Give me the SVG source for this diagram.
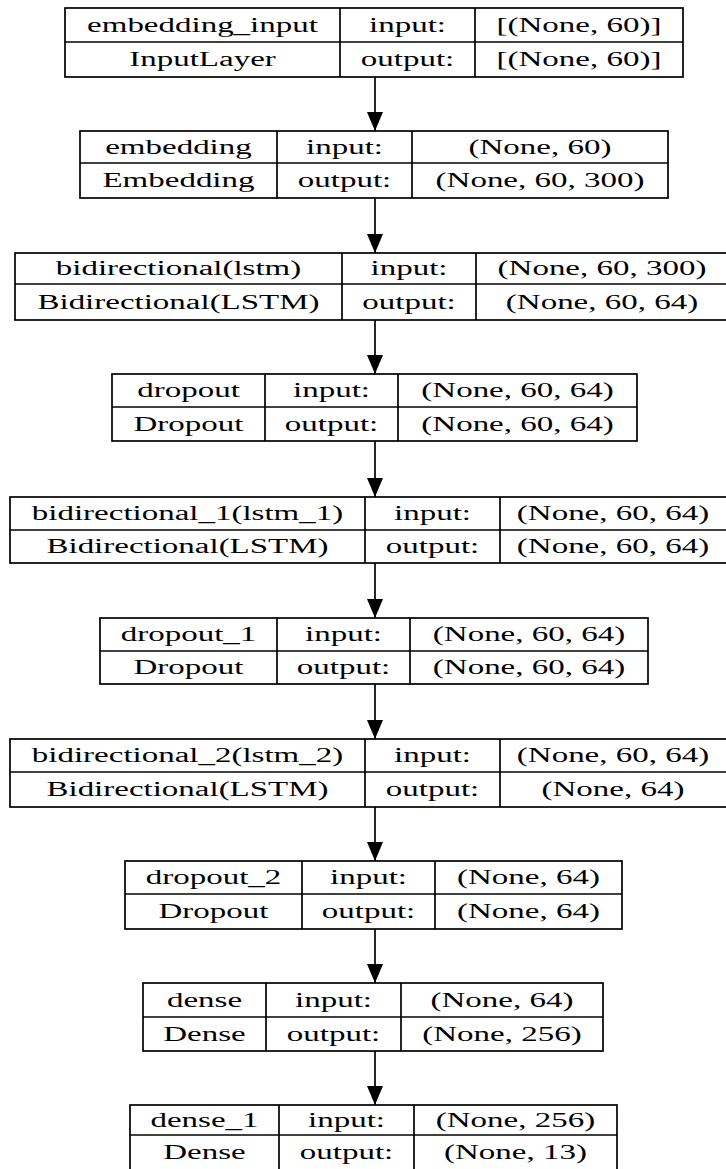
<svg xmlns="http://www.w3.org/2000/svg" width="726" height="1169" viewBox="0 0 726 1169">
<style>
.box{fill:#fff;stroke:#000;stroke-width:1.7}
.ln{stroke:#000;stroke-width:1.7}
.t{font-family:"Liberation Serif","Times New Roman",serif;font-size:20px;fill:#000;text-anchor:middle}
.edge{stroke:#000;stroke-width:1.7;fill:none;marker-end:url(#ah)}
</style>
<defs>
<marker id="ah" viewBox="0 0 19 16" refX="19" refY="8" markerWidth="19" markerHeight="16" markerUnits="userSpaceOnUse" orient="auto">
<path d="M0,0 L19,8 L0,16 z" fill="#000"/>
</marker>
</defs>
<rect width="726" height="1169" fill="#fff"/>
<g id="edges">
<line class="edge" x1="375" y1="77" x2="375" y2="131"/>
<line class="edge" x1="375" y1="198" x2="375" y2="253"/>
<line class="edge" x1="375" y1="320" x2="375" y2="374"/>
<line class="edge" x1="375" y1="441" x2="375" y2="497"/>
<line class="edge" x1="375" y1="563" x2="375" y2="618"/>
<line class="edge" x1="375" y1="684" x2="375" y2="739"/>
<line class="edge" x1="375" y1="807" x2="375" y2="861"/>
<line class="edge" x1="375" y1="929" x2="375" y2="983"/>
<line class="edge" x1="375" y1="1051" x2="375" y2="1105"/>
</g>
<g id="embedding_input">
<rect class="box" x="65" y="8" width="618" height="69"/>
<line class="ln" x1="65" y1="42" x2="683" y2="42"/>
<line class="ln" x1="340" y1="8" x2="340" y2="77"/>
<line class="ln" x1="475" y1="8" x2="475" y2="77"/>
<text class="t" transform="translate(202.5 31.5) scale(1.65 1)">embedding_input</text>
<text class="t" transform="translate(202.5 66) scale(1.65 1)">InputLayer</text>
<text class="t" transform="translate(407.5 31.5) scale(1.65 1)">input:</text>
<text class="t" transform="translate(407.5 66) scale(1.65 1)">output:</text>
<text class="t" transform="translate(579 31.5) scale(1.65 1)">[(None, 60)]</text>
<text class="t" transform="translate(579 66) scale(1.65 1)">[(None, 60)]</text>
</g>
<g id="embedding">
<rect class="box" x="80" y="131" width="588" height="67"/>
<line class="ln" x1="80" y1="163" x2="668" y2="163"/>
<line class="ln" x1="277" y1="131" x2="277" y2="198"/>
<line class="ln" x1="412" y1="131" x2="412" y2="198"/>
<text class="t" transform="translate(178.5 153.5) scale(1.65 1)">embedding</text>
<text class="t" transform="translate(178.5 187) scale(1.65 1)">Embedding</text>
<text class="t" transform="translate(344.5 153.5) scale(1.65 1)">input:</text>
<text class="t" transform="translate(344.5 187) scale(1.65 1)">output:</text>
<text class="t" transform="translate(540 153.5) scale(1.65 1)">(None, 60)</text>
<text class="t" transform="translate(540 187) scale(1.65 1)">(None, 60, 300)</text>
</g>
<g id="bidirectional">
<rect class="box" x="15" y="253" width="713" height="67"/>
<line class="ln" x1="15" y1="284" x2="728" y2="284"/>
<line class="ln" x1="342" y1="253" x2="342" y2="320"/>
<line class="ln" x1="476" y1="253" x2="476" y2="320"/>
<text class="t" transform="translate(178.5 275) scale(1.65 1)">bidirectional(lstm)</text>
<text class="t" transform="translate(178.5 308.5) scale(1.65 1)">Bidirectional(LSTM)</text>
<text class="t" transform="translate(409 275) scale(1.65 1)">input:</text>
<text class="t" transform="translate(409 308.5) scale(1.65 1)">output:</text>
<text class="t" transform="translate(602 275) scale(1.65 1)">(None, 60, 300)</text>
<text class="t" transform="translate(602 308.5) scale(1.65 1)">(None, 60, 64)</text>
</g>
<g id="dropout">
<rect class="box" x="112" y="374" width="525" height="67"/>
<line class="ln" x1="112" y1="407" x2="637" y2="407"/>
<line class="ln" x1="265" y1="374" x2="265" y2="441"/>
<line class="ln" x1="398" y1="374" x2="398" y2="441"/>
<text class="t" transform="translate(188.5 397) scale(1.65 1)">dropout</text>
<text class="t" transform="translate(188.5 430.5) scale(1.65 1)">Dropout</text>
<text class="t" transform="translate(331.5 397) scale(1.65 1)">input:</text>
<text class="t" transform="translate(331.5 430.5) scale(1.65 1)">output:</text>
<text class="t" transform="translate(517.5 397) scale(1.65 1)">(None, 60, 64)</text>
<text class="t" transform="translate(517.5 430.5) scale(1.65 1)">(None, 60, 64)</text>
</g>
<g id="bidirectional_1">
<rect class="box" x="10" y="497" width="718" height="66"/>
<line class="ln" x1="10" y1="530" x2="728" y2="530"/>
<line class="ln" x1="365" y1="497" x2="365" y2="563"/>
<line class="ln" x1="500" y1="497" x2="500" y2="563"/>
<text class="t" transform="translate(187.5 520) scale(1.65 1)">bidirectional_1(lstm_1)</text>
<text class="t" transform="translate(187.5 553) scale(1.65 1)">Bidirectional(LSTM)</text>
<text class="t" transform="translate(432.5 520) scale(1.65 1)">input:</text>
<text class="t" transform="translate(432.5 553) scale(1.65 1)">output:</text>
<text class="t" transform="translate(613 520) scale(1.65 1)">(None, 60, 64)</text>
<text class="t" transform="translate(613 553) scale(1.65 1)">(None, 60, 64)</text>
</g>
<g id="dropout_1">
<rect class="box" x="100" y="618" width="548" height="66"/>
<line class="ln" x1="100" y1="651" x2="648" y2="651"/>
<line class="ln" x1="277" y1="618" x2="277" y2="684"/>
<line class="ln" x1="410" y1="618" x2="410" y2="684"/>
<text class="t" transform="translate(188.5 641) scale(1.65 1)">dropout_1</text>
<text class="t" transform="translate(188.5 674) scale(1.65 1)">Dropout</text>
<text class="t" transform="translate(343.5 641) scale(1.65 1)">input:</text>
<text class="t" transform="translate(343.5 674) scale(1.65 1)">output:</text>
<text class="t" transform="translate(529 641) scale(1.65 1)">(None, 60, 64)</text>
<text class="t" transform="translate(529 674) scale(1.65 1)">(None, 60, 64)</text>
</g>
<g id="bidirectional_2">
<rect class="box" x="10" y="739" width="718" height="68"/>
<line class="ln" x1="10" y1="772" x2="728" y2="772"/>
<line class="ln" x1="365" y1="739" x2="365" y2="807"/>
<line class="ln" x1="500" y1="739" x2="500" y2="807"/>
<text class="t" transform="translate(187.5 762) scale(1.65 1)">bidirectional_2(lstm_2)</text>
<text class="t" transform="translate(187.5 796) scale(1.65 1)">Bidirectional(LSTM)</text>
<text class="t" transform="translate(432.5 762) scale(1.65 1)">input:</text>
<text class="t" transform="translate(432.5 796) scale(1.65 1)">output:</text>
<text class="t" transform="translate(613 762) scale(1.65 1)">(None, 60, 64)</text>
<text class="t" transform="translate(613 796) scale(1.65 1)">(None, 64)</text>
</g>
<g id="dropout_2">
<rect class="box" x="125" y="861" width="497" height="68"/>
<line class="ln" x1="125" y1="894" x2="622" y2="894"/>
<line class="ln" x1="302" y1="861" x2="302" y2="929"/>
<line class="ln" x1="435" y1="861" x2="435" y2="929"/>
<text class="t" transform="translate(213.5 884) scale(1.65 1)">dropout_2</text>
<text class="t" transform="translate(213.5 918) scale(1.65 1)">Dropout</text>
<text class="t" transform="translate(368.5 884) scale(1.65 1)">input:</text>
<text class="t" transform="translate(368.5 918) scale(1.65 1)">output:</text>
<text class="t" transform="translate(528.5 884) scale(1.65 1)">(None, 64)</text>
<text class="t" transform="translate(528.5 918) scale(1.65 1)">(None, 64)</text>
</g>
<g id="dense">
<rect class="box" x="143" y="983" width="460" height="68"/>
<line class="ln" x1="143" y1="1017" x2="603" y2="1017"/>
<line class="ln" x1="266" y1="983" x2="266" y2="1051"/>
<line class="ln" x1="401" y1="983" x2="401" y2="1051"/>
<text class="t" transform="translate(204.5 1006.5) scale(1.65 1)">dense</text>
<text class="t" transform="translate(204.5 1040.5) scale(1.65 1)">Dense</text>
<text class="t" transform="translate(333.5 1006.5) scale(1.65 1)">input:</text>
<text class="t" transform="translate(333.5 1040.5) scale(1.65 1)">output:</text>
<text class="t" transform="translate(502 1006.5) scale(1.65 1)">(None, 64)</text>
<text class="t" transform="translate(502 1040.5) scale(1.65 1)">(None, 256)</text>
</g>
<g id="dense_1">
<rect class="box" x="130" y="1105" width="487" height="70"/>
<line class="ln" x1="130" y1="1135" x2="617" y2="1135"/>
<line class="ln" x1="279" y1="1105" x2="279" y2="1175"/>
<line class="ln" x1="414" y1="1105" x2="414" y2="1175"/>
<text class="t" transform="translate(204.5 1127) scale(1.65 1)">dense_1</text>
<text class="t" transform="translate(204.5 1159) scale(1.65 1)">Dense</text>
<text class="t" transform="translate(346.5 1127) scale(1.65 1)">input:</text>
<text class="t" transform="translate(346.5 1159) scale(1.65 1)">output:</text>
<text class="t" transform="translate(515.5 1127) scale(1.65 1)">(None, 256)</text>
<text class="t" transform="translate(515.5 1159) scale(1.65 1)">(None, 13)</text>
</g>
</svg>
